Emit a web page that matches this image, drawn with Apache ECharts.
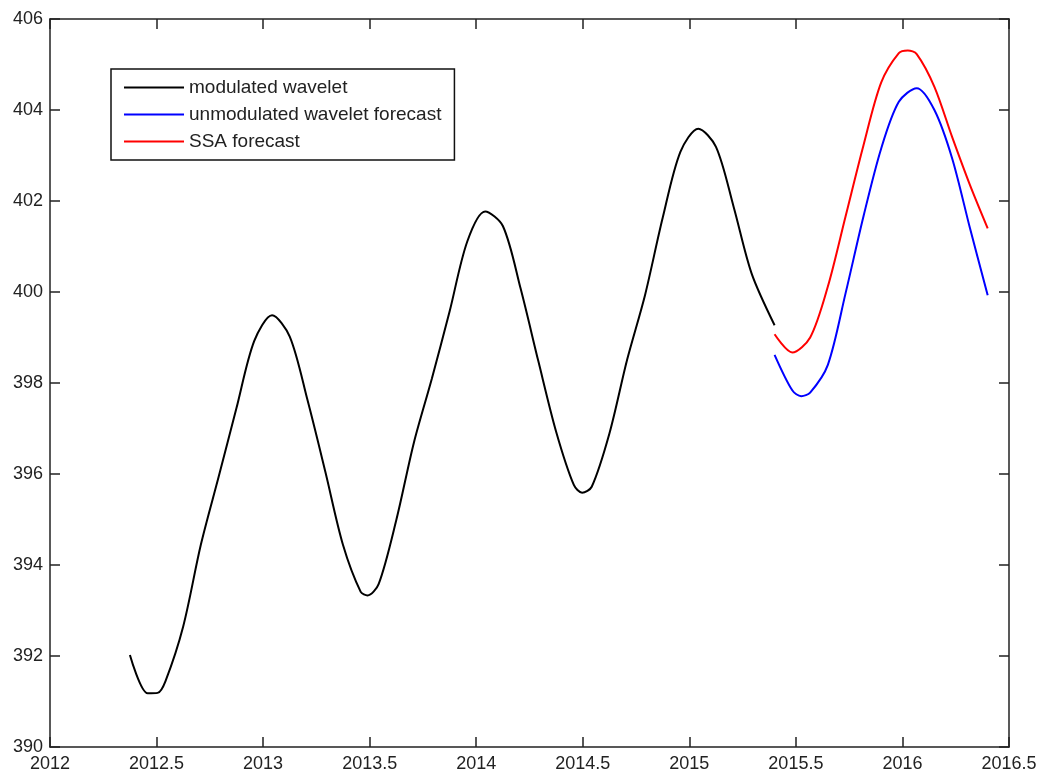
<!DOCTYPE html>
<html>
<head>
<meta charset="utf-8">
<script src="https://cdn.jsdelivr.net/npm/echarts@6/dist/echarts.min.js"></script>
<style>
html,body{margin:0;padding:0;background:#fff;}
#chart{width:1050px;height:777px;}
</style>
</head>
<body>
<div id="chart"></div>
<script>
// ---- data ----
var modYears = [2012.375, 2012.458, 2012.505, 2012.542, 2012.625, 2012.708, 2012.792, 2012.875, 2012.958,
  2013.042, 2013.125, 2013.208, 2013.292, 2013.375, 2013.458, 2013.490, 2013.542, 2013.625, 2013.708,
  2013.792, 2013.875, 2013.958, 2014.042, 2014.125, 2014.208, 2014.292, 2014.375, 2014.458, 2014.497,
  2014.542, 2014.625, 2014.708, 2014.792, 2014.875, 2014.958, 2015.042, 2015.125, 2015.208,
  2015.292, 2015.400];
var modValues = [392.02, 391.18, 391.19, 391.45, 392.65, 394.45, 395.95, 397.45, 398.92,
  399.49, 399.02, 397.63, 396.05, 394.44, 393.41, 393.33, 393.58, 394.99, 396.70,
  398.10, 399.57, 401.11, 401.77, 401.45, 400.08, 398.47, 396.93, 395.76, 395.59,
  395.72, 396.89, 398.51, 399.93, 401.63, 403.08, 403.59, 403.19, 401.87,
  400.41, 399.27];

var unmodYears = [2015.400, 2015.483, 2015.525, 2015.567, 2015.650, 2015.733, 2015.817, 2015.900,
  2015.983, 2016.067, 2016.150, 2016.233, 2016.317, 2016.400];
var unmodValues = [398.62, 397.84, 397.71, 397.79, 398.40, 399.97, 401.66, 403.15,
  404.18, 404.48, 404.00, 402.94, 401.40, 399.93];

var ssaYears = [2015.400, 2015.483, 2015.567, 2015.650, 2015.733, 2015.817, 2015.900,
  2015.983, 2016.025, 2016.067, 2016.150, 2016.233, 2016.317, 2016.400];
var ssaValues = [399.07, 398.67, 399.00, 400.12, 401.66, 403.22, 404.60,
  405.25, 405.31, 405.23, 404.51, 403.41, 402.35, 401.40];

var seriesNames = ['modulated wavelet', 'unmodulated wavelet forecast', 'SSA forecast'];
var xTicks = [2012, 2012.5, 2013, 2013.5, 2014, 2014.5, 2015, 2015.5, 2016, 2016.5];
var yTicks = [390, 392, 394, 396, 398, 400, 402, 404, 406];

function pairs(xs, ys) {
  var out = [];
  for (var i = 0; i < xs.length; i++) out.push([xs[i], ys[i]]);
  return out;
}

var FONT = '"Liberation Sans", Arial, sans-serif';
var xMin = xTicks[0], xMax = xTicks[xTicks.length - 1], xStep = xTicks[1] - xTicks[0];
var yMin = yTicks[0], yMax = yTicks[yTicks.length - 1], yStep = yTicks[1] - yTicks[0];

function axisBase(showLabel, isX) {
  return {
    type: 'value',
    min: isX ? xMin : yMin,
    max: isX ? xMax : yMax,
    interval: isX ? xStep : yStep,
    axisLine: {show: true, onZero: false, lineStyle: {color: '#222', width: 1.5}},
    axisTick: {show: true, inside: true, length: 10, lineStyle: {color: '#222', width: 1.5}},
    splitLine: {show: false},
    axisLabel: {
      show: showLabel,
      color: '#222',
      fontSize: 18,
      fontFamily: FONT,
      margin: isX ? 8 : 7,
      formatter: function (v) { return String(v); }
    }
  };
}

var xb = axisBase(true, true);
var xt = axisBase(false, true); xt.position = 'top';
var yl = axisBase(true, false);
var yr = axisBase(false, false); yr.position = 'right';

function lineSeries(name, xs, ys, color) {
  return {
    name: name, type: 'line', xAxisIndex: 0, yAxisIndex: 0,
    data: pairs(xs, ys), symbol: 'none', showSymbol: false, smooth: 0.3,
    lineStyle: {color: color, width: 2}, itemStyle: {color: color}
  };
}

var chart = echarts.init(document.getElementById('chart'), null, {renderer: 'canvas'});
chart.setOption({
  animation: false,
  backgroundColor: '#fff',
  grid: {left: 50, right: 41, top: 19, bottom: 30, containLabel: false, outerBoundsMode: 'none'},
  xAxis: [xb, xt],
  yAxis: [yl, yr],
  legend: {
    orient: 'vertical',
    left: 111,
    top: 69,
    padding: [9, 13, 9, 12],
    itemWidth: 60,
    itemHeight: 19,
    itemGap: 8,
    backgroundColor: '#fff',
    borderColor: '#111',
    borderWidth: 1.5,
    itemStyle: {opacity: 0},
    lineStyle: {width: 2},
    textStyle: {color: '#222', fontSize: 19, fontFamily: FONT},
    data: seriesNames
  },
  series: [
    lineSeries(seriesNames[0], modYears, modValues, '#000000'),
    lineSeries(seriesNames[1], unmodYears, unmodValues, '#0000ff'),
    lineSeries(seriesNames[2], ssaYears, ssaValues, '#ff0000')
  ]
});
</script>
</body>
</html>
